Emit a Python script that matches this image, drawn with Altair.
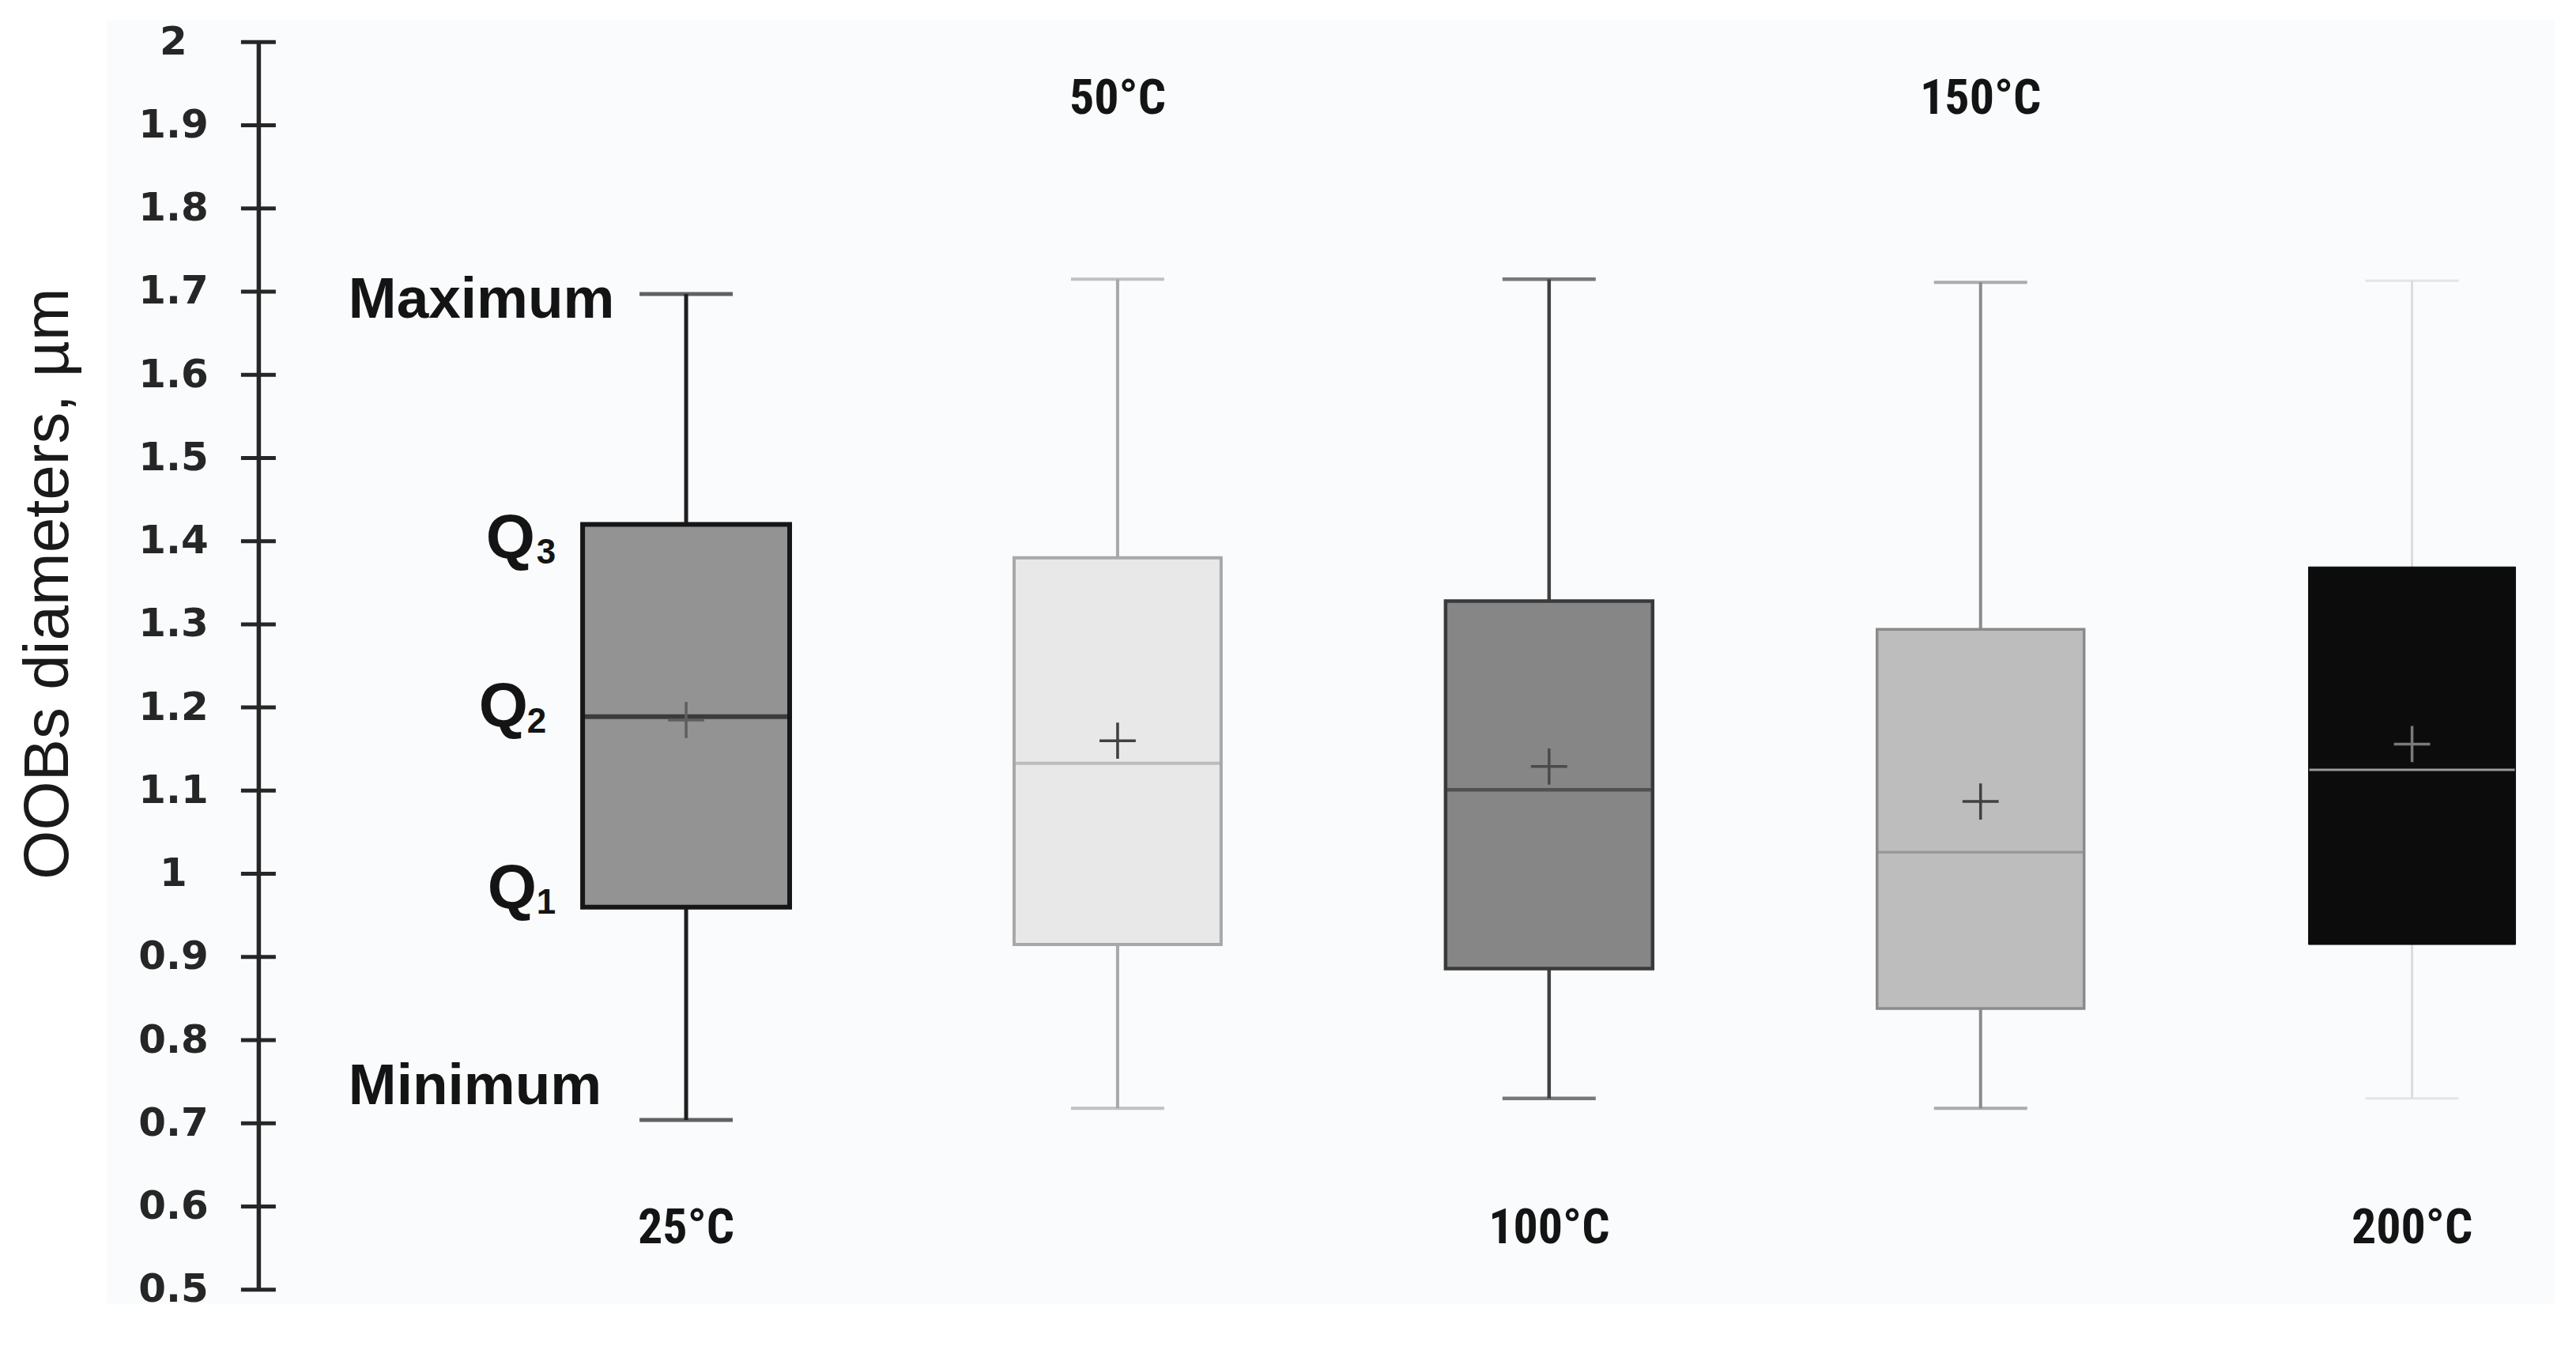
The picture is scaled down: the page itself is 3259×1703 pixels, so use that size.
import altair as alt
import pandas as pd

# ---------------- data ----------------
categories = ["25°C", "50°C", "100°C", "150°C", "200°C"]
minimum = [0.704, 0.718, 0.730, 0.718, 0.730]
q1 = [0.960, 0.915, 0.886, 0.838, 0.915]
median = [1.189, 1.133, 1.101, 1.026, 1.125]
q3 = [1.420, 1.380, 1.328, 1.294, 1.369]
maximum = [1.697, 1.715, 1.715, 1.711, 1.713]
mean = [1.185, 1.160, 1.129, 1.087, 1.156]
label_top = ["50°C", "150°C"]
y_ticks = [0.5, 0.6, 0.7, 0.8, 0.9, 1.0, 1.1, 1.2, 1.3, 1.4, 1.5, 1.6, 1.7, 1.8, 1.9, 2.0]

# ---------------- styles ----------------
box_fill = ["#939393", "#e8e8e8", "#868686", "#bdbdbd", "#0c0c0c"]
box_stroke = ["#161616", "#a8a8a8", "#3a3a3a", "#8a8a8a", "#0c0c0c"]
box_sw = [6, 4, 4.5, 3.5, 1]
whisker_color = ["#1f1f1f", "#a8a8a8", "#404040", "#8a8a8a", "#dcdcdc"]
whisker_sw = [5, 4, 4.5, 4, 3]
median_color = ["#161616", "#a8a8a8", "#3a3a3a", "#8a8a8a", "#d9d9d9"]
median_sw = [6, 4, 4.5, 3.5, 3]
mean_color = ["#5e5e5e", "#404040", "#4a4a4a", "#404040", "#7a7a7a"]

W, H = 2905, 1579
BOX_W = 262
CAP_W = 118
TEXT = "#141414"

df = pd.DataFrame({
    "temp": categories, "min": minimum, "q1": q1, "median": median,
    "q3": q3, "max": maximum, "mean": mean,
})

xscale = alt.Scale(type="point", domain=categories, padding=0.66, align=0.751)
yscale = alt.Scale(domain=[0.5, 2.0], nice=False, zero=False)

X = alt.X("temp:N", scale=xscale, axis=None)

layers = []

# background panel
bg = alt.Chart(pd.DataFrame({"a": [0]})).mark_rect(color="#f9fbfc").encode(
    x=alt.value(-192), x2=alt.value(W + 1), y=alt.value(-28), y2=alt.value(H + 18)
)
layers.append(bg)

yaxis = alt.Axis(
    values=y_ticks, format="~g", grid=False, ticks=False, tickSize=0, zindex=1,
    domainColor="#262626", domainWidth=5.5,
    labelFont="DejaVu Sans", labelFontWeight="bold", labelFontSize=50,
    labelColor="#262626", labelAlign="center", labelBaseline="middle",
    labelPadding=108,
    title="OOBs diameters, µm", titleFont="Liberation Sans", titleFontSize=80,
    titleFontWeight="normal", titleColor="#1a1a1a", titleAngle=270,
    titleX=-265, titleY=685, titleAlign="center", titleBaseline="middle",
)

for i, cat in enumerate(categories):
    base = alt.Chart(df).transform_filter(alt.datum.temp == cat)
    whisk_hi = base.mark_rule(color=whisker_color[i], strokeWidth=whisker_sw[i]).encode(
        x=X, y=alt.Y("q3:Q", scale=yscale, axis=yaxis), y2="max:Q")
    whisk_lo = base.mark_rule(color=whisker_color[i], strokeWidth=whisker_sw[i]).encode(
        x=X, y=alt.Y("min:Q", scale=yscale, axis=yaxis), y2="q1:Q")
    cap_hi = base.mark_tick(color=whisker_color[i], size=CAP_W, thickness=whisker_sw[i]).encode(
        x=X, y=alt.Y("max:Q", scale=yscale, axis=yaxis))
    cap_lo = base.mark_tick(color=whisker_color[i], size=CAP_W, thickness=whisker_sw[i]).encode(
        x=X, y=alt.Y("min:Q", scale=yscale, axis=yaxis))
    box = base.mark_bar(size=BOX_W, fill=box_fill[i], stroke=box_stroke[i],
                        strokeWidth=box_sw[i]).encode(
        x=X, y=alt.Y("q1:Q", scale=yscale, axis=yaxis), y2="q3:Q")
    med = base.mark_tick(color=median_color[i], size=BOX_W - 2,
                         thickness=median_sw[i]).encode(
        x=X, y=alt.Y("median:Q", scale=yscale, axis=yaxis))
    mn = base.mark_point(shape="M-1,0L1,0M0,-1L0,1", filled=False, size=2100,
                         strokeWidth=3.5, color=mean_color[i], opacity=1).encode(
        x=X, y=alt.Y("mean:Q", scale=yscale, axis=yaxis))
    layers += [whisk_hi, whisk_lo, cap_hi, cap_lo, box, med, mn]

# crossing y-axis ticks
ticks = alt.Chart(pd.DataFrame({"v": y_ticks})).mark_rule(
    color="#262626", strokeWidth=5).encode(
    y=alt.Y("v:Q", scale=yscale, axis=yaxis), x=alt.value(-22), x2=alt.value(22))
layers.append(ticks)

# category labels
cat_df = pd.DataFrame({"temp": categories})
cat_font = "Liberation Sans Narrow, Roboto Condensed, Liberation Sans"
lab_top = alt.Chart(cat_df).transform_filter(
    alt.FieldOneOfPredicate(field="temp", oneOf=label_top)
).mark_text(font=cat_font, fontWeight="bold", fontSize=62, color=TEXT,
            baseline="middle", align="center").encode(
    x=X, y=alt.value(72), text="temp:N")
lab_bot = alt.Chart(cat_df).transform_filter(
    ~alt.FieldOneOfPredicate(field="temp", oneOf=label_top)
).mark_text(font=cat_font, fontWeight="bold", fontSize=62, color=TEXT,
            baseline="middle", align="center").encode(
    x=X, y=alt.value(1501), text="temp:N")
layers += [lab_top, lab_bot]


def ann(text, value, x, dy, size):
    return alt.Chart(pd.DataFrame({"v": [value]})).mark_text(
        text=text, align="left", baseline="middle", font="Liberation Sans",
        fontWeight="bold", fontSize=size, dy=dy, color=TEXT,
    ).encode(x=alt.value(x), y=alt.Y("v:Q", scale=yscale, axis=yaxis))


layers += [
    ann("Maximum", maximum[0], 114, 8, 73),
    ann("Minimum", minimum[0], 114, -42, 73),
    ann("Q", q3[0], 288, 18, 80),
    ann("3", q3[0], 352, 36, 44),
    ann("Q", median[0], 279, -12, 80),
    ann("2", median[0], 340, 7, 44),
    ann("Q", q1[0], 290, -23, 80),
    ann("1", q1[0], 352, -5, 44),
]

chart = alt.layer(*layers).properties(
    width=W, height=H,
    autosize=alt.AutoSizeParams(type="none"),
    padding={"left": 319, "top": 45, "right": 20, "bottom": 60},
    background="white",
).configure_view(stroke=None)

chart.save("out.html", embed_options={"renderer": "svg", "actions": False})
